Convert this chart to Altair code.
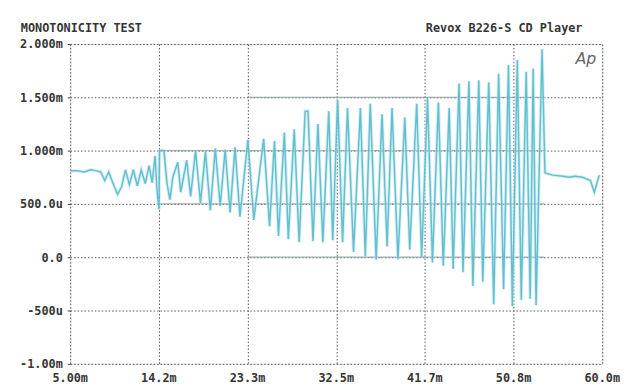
import altair as alt
import pandas as pd

# ---- data (time in ms, level in mV) ----
t_ms = [5.00, 5.71, 6.43, 7.14, 7.76, 8.16, 8.57, 8.98, 9.39, 9.90, 10.31, 10.71,
        11.12, 11.53, 11.94, 12.35, 12.76, 13.16, 13.47, 13.78, 13.98, 14.18, 14.23,
        14.69, 15.00, 15.31, 15.61, 16.12, 16.43, 17.04, 17.45, 17.96, 18.47, 18.98,
        19.49, 20.00, 20.51, 21.02, 21.53, 22.04, 22.55, 23.37, 23.98, 25.00, 25.61,
        26.12, 26.53, 27.14, 27.55, 28.16, 28.67, 29.29, 29.59, 30.10, 30.61, 31.12,
        31.73, 32.14, 32.65, 33.16, 33.67, 34.29, 35.00, 35.51, 36.02, 36.63, 37.24,
        37.76, 38.27, 38.88, 39.59, 40.10, 40.82, 41.33, 41.94, 42.45, 43.06, 43.57,
        44.18, 44.59, 45.20, 45.61, 46.22, 46.63, 47.24, 47.65, 48.27, 48.78, 49.29,
        49.80, 50.31, 50.71, 51.22, 51.63, 52.14, 52.55, 52.86, 53.16, 53.78, 54.08,
        54.90, 55.92, 56.63, 57.14, 57.96, 58.78, 59.18, 59.69]
level_mv = [0.81, 0.81, 0.80, 0.82, 0.81, 0.80, 0.72, 0.80, 0.70, 0.59, 0.66, 0.82,
            0.68, 0.82, 0.67, 0.82, 0.69, 0.86, 0.70, 0.95, 0.62, 0.45, 1.00,
            1.00, 0.70, 0.54, 0.75, 0.89, 0.61, 0.91, 0.57, 1.00, 0.51, 0.99,
            0.44, 1.02, 0.48, 1.01, 0.42, 1.03, 0.38, 1.10, 0.35, 1.11, 0.29,
            1.09, 0.20, 1.17, 0.17, 1.20, 0.14, 1.37, 1.37, 0.15, 1.25, 0.14,
            1.37, 0.16, 1.48, 0.14, 1.40, 0.05, 1.40, 0.01, 1.44, -0.02, 1.34,
            0.10, 1.40, -0.02, 1.31, 0.07, 1.44, 0.00, 1.49, -0.05, 1.45, -0.08,
            1.40, -0.11, 1.63, -0.14, 1.65, -0.27, 1.66, -0.23, 1.64, -0.44, 1.72,
            -0.30, 1.80, -0.46, 1.85, -0.40, 1.74, -0.39, 1.77, -0.45, 1.95, 0.79,
            0.77, 0.76, 0.75, 0.76, 0.75, 0.72, 0.61, 0.77]

# step-level guide segments
lvl_y = [1.0, 0.5, 1.5, 0.0]
lvl_x1 = [14.2, 14.2, 23.3, 23.3]
lvl_x2 = [54.0, 54.0, 54.0, 54.0]

x_tick_values = [5.0, 14.1667, 23.3333, 32.5, 41.6667, 50.8333, 60.0]
x_tick_labels = ["5.00m", "14.2m", "23.3m", "32.5m", "41.7m", "50.8m", "60.0m"]
y_tick_values = [-1.0, -0.5, 0.0, 0.5, 1.0, 1.5, 2.0]
y_tick_labels = ["-1.00m", "-500u", "0.0", "500.0u", "1.000m", "1.500m", "2.000m"]

title_left = "MONOTONICITY TEST"
title_right = "Revox B226-S CD Player"
logo = "Ap"

FONT = "DejaVu Sans Mono"
INK = "#353535"

trace = pd.DataFrame({"t": t_ms, "v": level_mv, "i": range(len(t_ms))})
levels = pd.DataFrame({"y": lvl_y, "x1": lvl_x1, "x2": lvl_x2})
xlab = pd.DataFrame({"t": x_tick_values, "v": [-1.0] * len(x_tick_values), "s": x_tick_labels})

y_expr = " : ".join(f"abs(datum.value - {v}) < 0.01 ? '{l}'" for v, l in zip(y_tick_values, y_tick_labels)) + " : ''"

xscale = alt.Scale(domain=[5, 60], nice=False, zero=False)
yscale = alt.Scale(domain=[-1, 2], nice=False, zero=False)

xaxis = alt.Axis(values=x_tick_values, labels=False, title=None, grid=True,
                 gridColor="#555", gridDash=[1.5, 2], gridWidth=1, domain=False,
                 ticks=False)
yaxis = alt.Axis(values=y_tick_values, labelExpr=y_expr, title=None, grid=True,
                 gridColor="#555", gridDash=[1.5, 2], gridWidth=1, domain=False,
                 ticks=True, tickSize=3, tickColor="#444", labelPadding=5, labelFont=FONT,
                 labelFontSize=12, labelFontWeight="bold", labelColor=INK, labelOverlap=False)

level_layer = alt.Chart(levels).mark_rule(color="#8a9da1", strokeWidth=1.3, opacity=0.8).encode(
    x=alt.X("x1:Q", scale=xscale, axis=xaxis),
    x2="x2:Q",
    y=alt.Y("y:Q", scale=yscale, axis=yaxis),
)

glow_layer = alt.Chart(trace).mark_line(color="#bfe5ee", strokeWidth=3.5, opacity=0.6).encode(
    x=alt.X("t:Q", scale=xscale),
    y=alt.Y("v:Q", scale=yscale),
    order="i:Q",
)

line_layer = alt.Chart(trace).mark_line(color="#55bacb", strokeWidth=1.5, opacity=0.9).encode(
    x=alt.X("t:Q", scale=xscale),
    y=alt.Y("v:Q", scale=yscale),
    order="i:Q",
)

xlabel_layer = alt.Chart(xlab).mark_text(
    font=FONT, fontSize=12, fontWeight="bold", color=INK, align="center", baseline="middle", dy=14
).encode(x=alt.X("t:Q", scale=xscale), y=alt.Y("v:Q", scale=yscale), text="s:N")

titles = pd.DataFrame({"t": [5.0, 57.96], "v": [2.0, 2.0], "s": [title_left, title_right]})
left_title = alt.Chart(titles.iloc[[0]]).mark_text(
    font=FONT, fontSize=12, fontWeight="bold", color=INK, align="left", baseline="alphabetic",
    dx=-50, dy=-12
).encode(x=alt.X("t:Q", scale=xscale), y=alt.Y("v:Q", scale=yscale), text="s:N")
right_title = alt.Chart(titles.iloc[[1]]).mark_text(
    font=FONT, fontSize=12, fontWeight="bold", color=INK, align="right", baseline="alphabetic",
    dy=-12
).encode(x=alt.X("t:Q", scale=xscale), y=alt.Y("v:Q", scale=yscale), text="s:N")

logo_layer = alt.Chart(pd.DataFrame({"t": [58.3], "v": [1.86], "s": [logo]})).mark_text(
    font="DejaVu Sans", fontSize=16, fontStyle="italic", color="#666", align="center", baseline="middle"
).encode(x=alt.X("t:Q", scale=xscale), y=alt.Y("v:Q", scale=yscale), text="s:N")

chart = alt.layer(level_layer, glow_layer, line_layer, xlabel_layer, left_title, right_title,
                  logo_layer).properties(
    width=539, height=324,
    autosize=alt.AutoSizeParams(type="none"),
    padding={"left": 63, "top": 34, "right": 18, "bottom": 20},
).configure_view(stroke=None).configure(background="white")

chart.save("out.html", embed_options={"renderer": "svg", "actions": False})
